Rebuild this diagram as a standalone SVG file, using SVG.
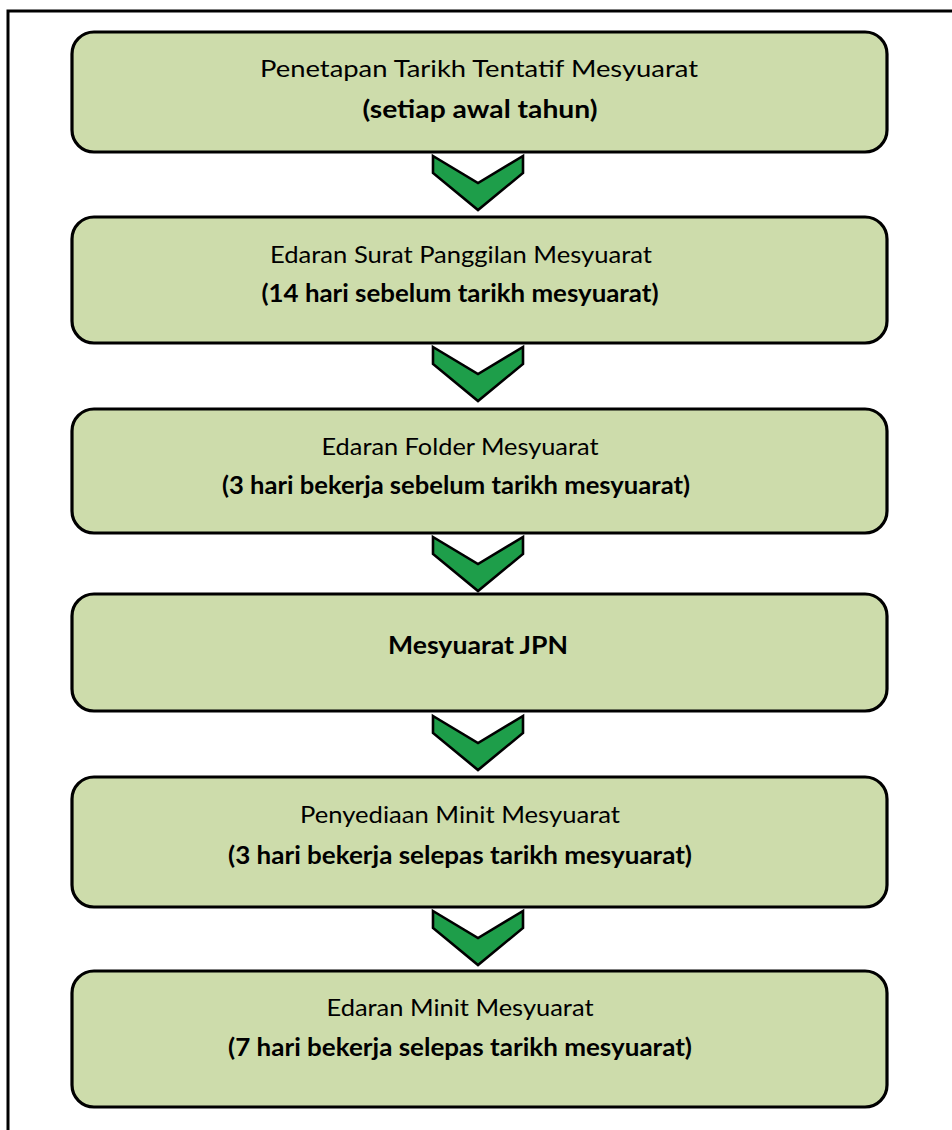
<svg xmlns="http://www.w3.org/2000/svg" xmlns:xlink="http://www.w3.org/1999/xlink" width="952" height="1130" viewBox="0 0 952 1130">
<style>
.box{fill:#cddcab;stroke:#000;stroke-width:3.2}
.t{font-family:Lato,"Liberation Sans",sans-serif;font-size:24px;fill:#000;text-anchor:middle}
.b{font-weight:bold}
.chev{fill:#1e9e4a;stroke:#000;stroke-width:2.6;stroke-linejoin:miter}
</style>
<defs>
<path id="chev" class="chev" d="M-45,0 L0,27 L45,0 L45,17 L0,54 L-45,17 Z"/>
</defs>
<rect x="0" y="0" width="952" height="1130" fill="#fff"/>
<rect x="8" y="11" width="1000" height="1200" fill="none" stroke="#000" stroke-width="3"/>
<g id="connectors">
<use xlink:href="#chev" x="478" y="156"/>
<use xlink:href="#chev" x="478" y="347"/>
<use xlink:href="#chev" x="478" y="537"/>
<use xlink:href="#chev" x="478" y="716"/>
<use xlink:href="#chev" x="478" y="911"/>
</g>
<g id="node1">
<rect class="box" x="72" y="32" width="815" height="120" rx="22"/>
<text class="t" x="479" y="77" textLength="438" lengthAdjust="spacingAndGlyphs">Penetapan Tarikh Tentatif Mesyuarat</text>
<text class="t b" x="480" y="118" textLength="235" lengthAdjust="spacingAndGlyphs">(setiap awal tahun)</text>
</g>
<g id="node2">
<rect class="box" x="72" y="217" width="815" height="126" rx="22"/>
<text class="t" x="461" y="263" textLength="382" lengthAdjust="spacingAndGlyphs">Edaran Surat Panggilan Mesyuarat</text>
<text class="t b" x="460" y="302" textLength="397" lengthAdjust="spacingAndGlyphs">(14 hari sebelum tarikh mesyuarat)</text>
</g>
<g id="node3">
<rect class="box" x="72" y="409" width="815" height="124" rx="22"/>
<text class="t" x="460" y="455" textLength="277" lengthAdjust="spacingAndGlyphs">Edaran Folder Mesyuarat</text>
<text class="t b" x="456" y="494" textLength="468" lengthAdjust="spacingAndGlyphs">(3 hari bekerja sebelum tarikh mesyuarat)</text>
</g>
<g id="node4">
<rect class="box" x="72" y="594" width="815" height="117" rx="22"/>
<text class="t b" x="478" y="654" textLength="180" lengthAdjust="spacingAndGlyphs">Mesyuarat JPN</text>
</g>
<g id="node5">
<rect class="box" x="72" y="777" width="815" height="130" rx="22"/>
<text class="t" x="460" y="823" textLength="320" lengthAdjust="spacingAndGlyphs">Penyediaan Minit Mesyuarat</text>
<text class="t b" x="460" y="864" textLength="464" lengthAdjust="spacingAndGlyphs">(3 hari bekerja selepas tarikh mesyuarat)</text>
</g>
<g id="node6">
<rect class="box" x="72" y="971" width="815" height="136" rx="22"/>
<text class="t" x="460" y="1016" textLength="267" lengthAdjust="spacingAndGlyphs">Edaran Minit Mesyuarat</text>
<text class="t b" x="460" y="1056" textLength="464" lengthAdjust="spacingAndGlyphs">(7 hari bekerja selepas tarikh mesyuarat)</text>
</g>
</svg>
